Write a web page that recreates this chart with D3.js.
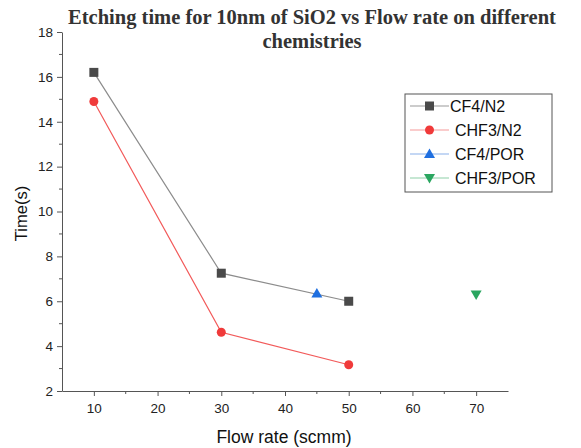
<!DOCTYPE html>
<html lang="en">
<head>
<meta charset="UTF-8">
<title>Etching time vs Flow rate</title>
<script src="https://cdnjs.cloudflare.com/ajax/libs/d3/7.8.5/d3.min.js"></script>
<style>
    body { margin: 0; background: #fff; }
    svg { display: block; font-family: Arial, "Liberation Sans", sans-serif; }
</style>
</head>
<body>
<div id="chart"></div>
<script>
    // Data
    const seriesNames = ["CF4/N2", "CHF3/N2", "CF4/POR", "CHF3/POR"];
    const cf4n2X = [10, 30, 50];
    const cf4n2Y = [16.2, 7.25, 6.0];
    const chf3n2X = [10, 30, 50];
    const chf3n2Y = [14.9, 4.62, 3.17];
    const cf4porX = [45];
    const cf4porY = [6.35];
    const chf3porX = [70];
    const chf3porY = [6.3];
    const xTicks = [10, 20, 30, 40, 50, 60, 70];
    const yTicks = [2, 4, 6, 8, 10, 12, 14, 16, 18];

    const width = 581, height = 448;
    const margin = {left: 62, right: 73, top: 32, bottom: 57};

    const svg = d3.select("#chart").append("svg")
        .attr("width", width)
        .attr("height", height);

    const x = d3.scaleLinear().domain([5, 75]).range([margin.left, width - margin.right]);
    const y = d3.scaleLinear().domain([2, 18]).range([height - margin.bottom, margin.top]);

    const series = [
        {name: seriesNames[0], xs: cf4n2X, ys: cf4n2Y, marker: "square", fill: "#4a4a4a", line: "#8c8c8c", legLine: "#9a9a9a"},
        {name: seriesNames[1], xs: chf3n2X, ys: chf3n2Y, marker: "circle", fill: "#f03a3a", line: "#f25a5a", legLine: "#f59a9a"},
        {name: seriesNames[2], xs: cf4porX, ys: cf4porY, marker: "triangle", fill: "#1f6fe0", line: "#6a9ee8", legLine: "#8ab0ea"},
        {name: seriesNames[3], xs: chf3porX, ys: chf3porY, marker: "triangleDown", fill: "#2aa660", line: "#7cc89a", legLine: "#8dd0a8"}
    ];

    function drawMarker(g, type, cx, cy, fill) {
        if (type === "square") {
            g.append("rect").attr("x", cx - 4.5).attr("y", cy - 4.5)
                .attr("width", 9).attr("height", 9).attr("fill", fill);
        } else if (type === "circle") {
            g.append("circle").attr("cx", cx).attr("cy", cy).attr("r", 4.5).attr("fill", fill);
        } else if (type === "triangle") {
            g.append("path").attr("d", `M${cx},${cy - 5.5}L${cx + 5.5},${cy + 4}L${cx - 5.5},${cy + 4}Z`).attr("fill", fill);
        } else {
            g.append("path").attr("d", `M${cx},${cy + 5.5}L${cx + 5.5},${cy - 4}L${cx - 5.5},${cy - 4}Z`).attr("fill", fill);
        }
    }

    // Axes
    const xAxis = svg.append("g")
        .attr("transform", `translate(0,${height - margin.bottom})`)
        .call(d3.axisBottom(x).tickValues(xTicks).tickSize(5).tickSizeOuter(0).tickPadding(7));
    xAxis.append("g").selectAll("line")
        .data(d3.range(15, 75, 10))
        .join("line")
        .attr("x1", d => x(d)).attr("x2", d => x(d))
        .attr("y1", 0).attr("y2", 3)
        .attr("stroke", "#555");

    const yAxis = svg.append("g")
        .attr("transform", `translate(${margin.left},0)`)
        .call(d3.axisLeft(y).tickValues(yTicks).tickSize(5).tickSizeOuter(0).tickPadding(4));
    yAxis.append("g").selectAll("line")
        .data(d3.range(3, 18, 2))
        .join("line")
        .attr("y1", d => y(d)).attr("y2", d => y(d))
        .attr("x1", 0).attr("x2", -3)
        .attr("stroke", "#555");

    svg.selectAll(".domain, .tick line").attr("stroke", "#555");
    svg.selectAll(".tick text").attr("font-size", 13.5).attr("fill", "#222")
        .attr("font-family", "Arial, 'Liberation Sans', sans-serif");

    // Axis titles
    svg.append("text")
        .attr("x", 284).attr("y", 443)
        .attr("text-anchor", "middle").attr("font-size", 17.5).attr("fill", "#111")
        .text("Flow rate (scmm)");
    svg.append("text")
        .attr("transform", `translate(27,${y(10) + 2}) rotate(-90)`)
        .attr("text-anchor", "middle").attr("font-size", 16.5).attr("fill", "#111")
        .text("Time(s)");

    // Title
    svg.append("text")
        .attr("x", 312).attr("y", 24)
        .attr("text-anchor", "middle")
        .attr("font-family", "'Liberation Serif', 'Times New Roman', serif")
        .attr("font-weight", "bold").attr("font-size", 20.5).attr("fill", "#333")
        .text("Etching time for 10nm of SiO2 vs Flow rate on different");
    svg.append("text")
        .attr("x", 312).attr("y", 48)
        .attr("text-anchor", "middle")
        .attr("font-family", "'Liberation Serif', 'Times New Roman', serif")
        .attr("font-weight", "bold").attr("font-size", 20.5).attr("fill", "#333")
        .text("chemistries");

    // Lines and markers
    const line = d3.line().x(d => x(d[0])).y(d => y(d[1]));
    series.forEach(s => {
        const pts = s.xs.map((v, i) => [v, s.ys[i]]);
        if (pts.length > 1) {
            svg.append("path").datum(pts)
                .attr("d", line).attr("fill", "none")
                .attr("stroke", s.line).attr("stroke-width", 1.2);
        }
        const g = svg.append("g");
        pts.forEach(p => drawMarker(g, s.marker, x(p[0]), y(p[1]), s.fill));
    });

    // Legend
    const leg = svg.append("g").attr("transform", "translate(405,94)");
    leg.append("rect").attr("width", 147).attr("height", 98)
        .attr("fill", "#fff").attr("stroke", "#555").attr("stroke-width", 1);
    series.forEach((s, i) => {
        const ly = 12 + i * 24;
        leg.append("line").attr("x1", 5).attr("x2", 44).attr("y1", ly).attr("y2", ly)
            .attr("stroke", s.legLine).attr("stroke-width", 1.2);
        drawMarker(leg, s.marker, 24.5, ly, s.fill);
        leg.append("text").attr("x", i === 0 ? 45 : 50).attr("y", ly + 6)
            .attr("font-size", 16).attr("fill", "#111")
            .text(s.name);
    });
</script>
</body>
</html>
